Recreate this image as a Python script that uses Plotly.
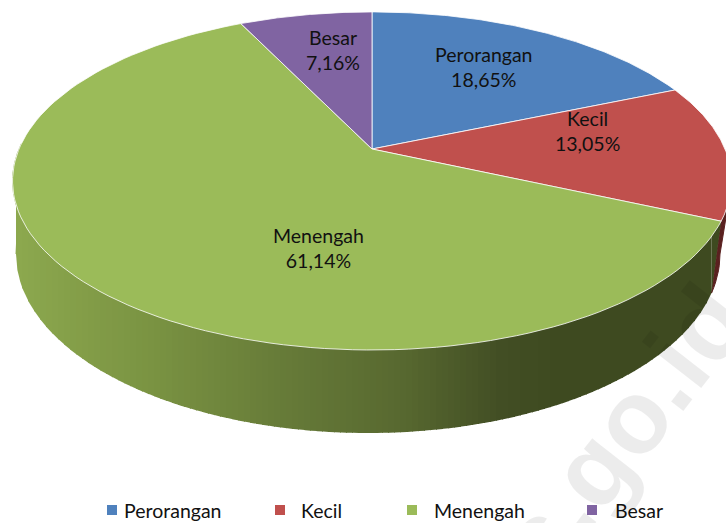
import numpy as np
import plotly.graph_objects as go

# Data
categories = ['Perorangan', 'Kecil', 'Menengah', 'Besar']
shares = [18.65, 13.05, 61.14, 7.16]
colors = ['#4f81bd', '#c0504d', '#9bbb59', '#8064a2']

# Where the labels and legend sit (pixels)
label_pos = [(483, 67), (587, 131), (318, 248), (333, 50)]
legend_marker_x = [112, 280, 412, 592]
legend_text_x = [122, 299, 432, 613]
legend_y = 510

W, H = 726, 523
FONT = 'Lato'

# Perspective of the top face: apex, scale and tilt
APEX_X, APEX_Y = 372, 149
SCALE_X, SCALE_Y = 353, 163
TILT = 0.189
# Bottom rim of the wall
BOT_X, BOT_Y, BOT_RX, BOT_RY = 368, 254, 352, 179
# Height hidden under the top face where the wall bands start
WALL_TOP = 181


def rim(theta):
    # theta in degrees, clockwise from the top
    t = np.radians(theta)
    w = 1 + TILT * np.cos(t)
    return APEX_X + SCALE_X * np.sin(t) / w, APEX_Y - SCALE_Y * np.cos(t) / w


def bottom(phi):
    # phi in degrees, clockwise from the top
    t = np.radians(phi)
    return BOT_X + BOT_RX * np.sin(t), BOT_Y - BOT_RY * np.cos(t)


def bottom_y(x):
    return BOT_Y + BOT_RY * np.sqrt(np.clip(1 - ((x - BOT_X) / BOT_RX) ** 2, 0, 1))


def wall_color(x):
    r = np.interp(x, [16, 150, 300, 400, 500, 560], [140, 122, 100, 88, 66, 62])
    g = np.interp(x, [16, 150, 300, 400, 500, 560], [168, 147, 120, 105, 78, 74])
    b = np.interp(x, [16, 150, 300, 400, 500, 560], [78, 66, 55, 48, 36, 32])
    return f'rgb({r:.0f},{g:.0f},{b:.0f})'


def poly(fig, xs, ys, fill, line=None, width=1):
    fig.add_trace(go.Scatter(
        x=xs, y=ys, mode='lines', fill='toself', fillcolor=fill,
        line=dict(color=line or fill, width=width),
        hoverinfo='skip', showlegend=False
    ))


fig = go.Figure()

# Boundaries of the slices, clockwise from the top
edges = np.cumsum([0] + shares) / sum(shares) * 360

# Wall of the green slice, in vertical bands to get the shading.
# Each band runs a pixel into the next one so no seams show.
phi_corner = 102.6
cx, cy = bottom(phi_corner)
band_edges = np.arange(BOT_X - BOT_RX, cx, 6)
for x0 in band_edges:
    xs = np.linspace(x0, min(x0 + 7, cx), 6)
    poly(fig, [xs[0]] + list(xs) + [xs[-1]], [WALL_TOP] + list(bottom_y(xs)) + [WALL_TOP],
         wall_color(x0 + 3), width=0)

# Wedges that close the wall at both ends
tx, ty = rim(edges[2])
poly(fig, [cx, tx, cx], [cy, ty, ty], wall_color(cx))
lx, ly = rim(np.linspace(248, 272, 8))
ex, ey = bottom(270)
poly(fig, list(lx) + [ex], list(ly) + [ey], wall_color(16))

# Wall of the red slice, just a sliver at the right edge
red_th = np.linspace(edges[2], edges[2] - 12, 8)
red_ph = np.linspace(90, phi_corner, 8)
rx, ry = rim(red_th)
bx, by = bottom(red_ph)
poly(fig, list(rx) + list(bx), list(ry) + list(by), '#5a2120')

# Top face
for i, cat in enumerate(categories):
    th = np.linspace(edges[i], edges[i + 1], 120)
    tx, ty = rim(th)
    poly(fig, [APEX_X] + list(tx) + [APEX_X], [APEX_Y] + list(ty) + [APEX_Y],
         colors[i], 'rgba(255,255,255,0.8)')

# Legend
fig.add_trace(go.Scatter(
    x=legend_marker_x, y=[legend_y] * 4, mode='markers',
    marker=dict(symbol='square', size=10, color=colors),
    hoverinfo='skip', showlegend=False
))

for i, cat in enumerate(categories):
    label = f'{cat}<br>{shares[i]:.2f}%'.replace('.', ',')
    fig.add_annotation(x=label_pos[i][0], y=label_pos[i][1], text=label, showarrow=False,
                       font=dict(family=FONT, size=19.5, color='#111111'))
    fig.add_annotation(x=legend_text_x[i], y=legend_y, text=cat, showarrow=False, xanchor='left',
                       font=dict(family=FONT, size=19.5, color='#111111'))

# Watermark, its centre lies below the page so it is cut like in the original
fig.add_annotation(x=500, y=515, yshift=-72, text='www.bps.go.id', showarrow=False, textangle=-52,
                   font=dict(family='Liberation Sans', size=104, color='rgba(0,0,0,0.075)', weight='bold'))

fig.update_layout(
    width=W, height=H,
    margin=dict(l=0, r=0, t=0, b=0),
    paper_bgcolor='white', plot_bgcolor='white',
    showlegend=False,
    xaxis=dict(range=[0, W], visible=False, fixedrange=True),
    yaxis=dict(range=[H, 0], visible=False, fixedrange=True)
)

fig.write_html("out.html", config=dict(displayModeBar=False),
               post_script="document.body.style.margin = '0';")
